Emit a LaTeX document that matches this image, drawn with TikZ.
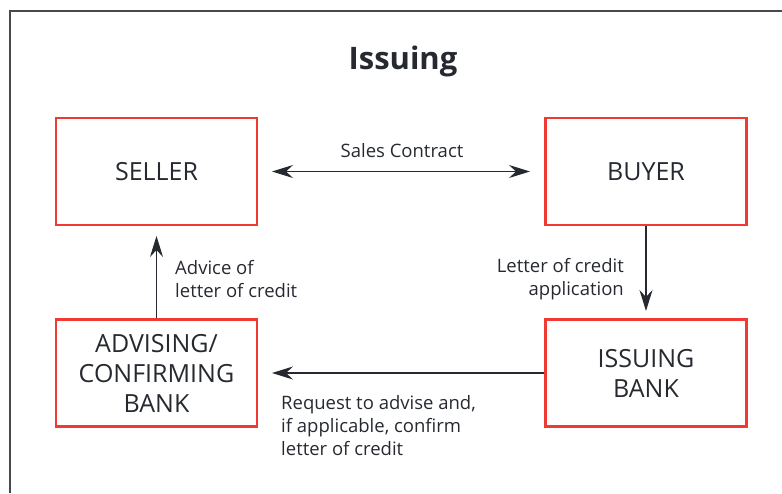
\documentclass[tikz,border=0pt]{standalone}
\usepackage{fontspec}
\setmainfont{Open Sans}
\usetikzlibrary{arrows.meta}
\definecolor{boxred}{HTML}{EE3A33}
\definecolor{ink}{HTML}{262930}
\begin{document}
\begin{tikzpicture}[x=1pt,y=-1pt,
  entity/.style={draw=boxred,line width=2.4pt,minimum width=201pt,minimum height=107pt,inner sep=0pt,align=center,font=\fontsize{25}{30}\selectfont,text=ink},
  tip/.tip={Stealth[length=21pt,width=13pt,inset=7pt]},
  flow/.style={draw=ink,line width=1.2pt,-tip},
  lbl/.style={font=\fontsize{18.5}{23}\selectfont,text=ink,inner sep=0pt}]
\useasboundingbox (0,0) rectangle (782,493);
\draw[ink!85,line width=1.1pt] (10,493) -- (10,11) -- (782,11);
\node[font=\bfseries\fontsize{31}{36}\selectfont,text=ink] (title) at (403,61) {Issuing};
\node[entity] (seller) at (156.5,171.5) {SELLER};
\node[entity] (buyer) at (646,171.5) {BUYER};
\node[entity] (adv) at (156.5,373) {ADVISING/\\CONFIRMING\\BANK};
\node[entity] (iss) at (646,373) {ISSUING\\BANK};
\coordinate (sc1) at (272,171.5);
\coordinate (sc2) at (530,171.5);
\draw[flow,tip-tip] (sc1) -- (sc2);
\node[lbl] (sclbl) at (402,151) {Sales Contract};
\coordinate (bt) at (646,311);
\draw[flow] (buyer.south) -- (bt);
\node[lbl,align=right,anchor=east] (loca) at (624,279) {Letter of credit\\application};
\coordinate (at) at (272,373);
\draw[flow] (iss.west) -- (at);
\node[lbl,align=left,anchor=north west] (req) at (281,395) {Request to advise and,\\if applicable, confirm\\letter of credit};
\coordinate (st) at (156.5,236);
\draw[flow] (adv.north) -- (st);
\node[lbl,align=left,anchor=west] (advlbl) at (175,279) {Advice of\\letter of credit};
\end{tikzpicture}
\end{document}
